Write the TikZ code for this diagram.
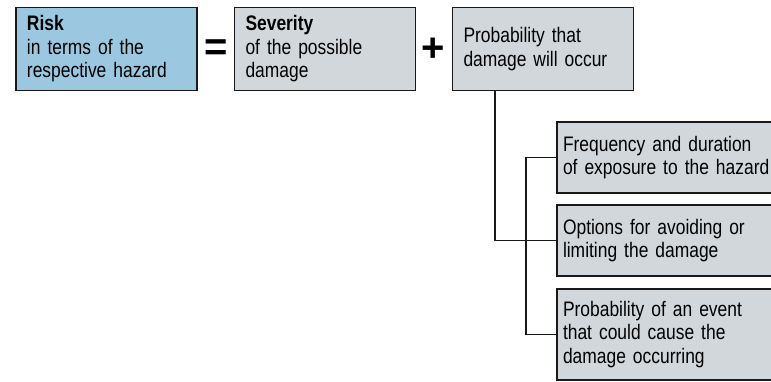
\documentclass[tikz,border=0pt]{standalone}
\usepackage{fontspec}
\setmainfont{Liberation Sans}[FakeStretch=0.83]
\newfontfamily\symfont{Liberation Sans}
\definecolor{riskblue}{RGB}{155,200,224}
\definecolor{boxgrey}{RGB}{210,215,219}
\definecolor{edge}{RGB}{25,25,25}
\begin{document}
\begin{tikzpicture}[x=1pt,y=-1pt,
  box/.style={draw=edge, line width=1.7pt, fill=boxgrey, align=left,
    inner ysep=0pt, font=\fontsize{21}{23.5}\selectfont},
  topbox/.style={box, inner xsep=11pt, text width=159pt, minimum height=83pt},
  sidebox/.style={box, inner xsep=6pt, text width=221pt},
  sym/.style={font=\symfont\fontsize{40}{40}\selectfont\bfseries, inner sep=0pt},
  link/.style={draw=edge, line width=1.9pt}]
\useasboundingbox (0,0) rectangle (771,382);
\node[topbox, fill=riskblue] (risk) at (106.5,49) {\textbf{Risk}\\in terms of the\\respective hazard};
\node[topbox] (sev) at (325,49) {\textbf{Severity}\\of the possible\\damage};
\node[topbox] (prob) at (543,49) {Probability that\\damage will occur};
\node[sym] (eq) at (216,50) {=};
\node[sym] (plus) at (433,50) {+};
\node[sidebox, minimum height=71pt] (freq) at (673.5,157.5) {Frequency and duration\\of exposure to the hazard};
\node[sidebox, minimum height=71pt] (opt) at (673.5,240.5) {Options for avoiding or\\limiting the damage};
\node[sidebox, minimum height=91pt] (event) at (673.5,334.5) {Probability of an event\\that could cause the\\damage occurring};
\coordinate (j) at (495,240.5);
\coordinate (b) at (526,240.5);
\draw[link] (prob.south -| j) -- (j) -- (opt.west);
\draw[link] (freq.west) -- (freq.west -| b) -- (event.west -| b) -- (event.west);
\end{tikzpicture}
\end{document}
